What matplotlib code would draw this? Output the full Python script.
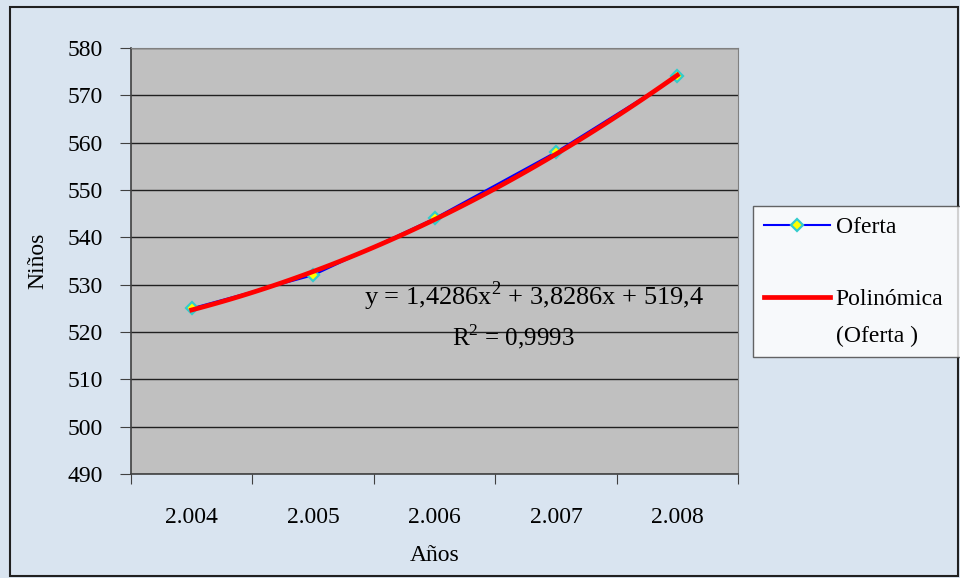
import matplotlib.pyplot as plt
import matplotlib.patches as patches
from matplotlib.lines import Line2D
import numpy as np

plt.rcParams['font.family'] = ['Liberation Serif', 'DejaVu Serif']
plt.rcParams['mathtext.fontset'] = 'custom'
plt.rcParams['mathtext.rm'] = 'Liberation Serif'

# Datos
anios = ["2.004", "2.005", "2.006", "2.007", "2.008"]
oferta = [525, 532, 544, 558, 574]
y_ticks = [490, 500, 510, 520, 530, 540, 550, 560, 570, 580]

x = np.arange(1, len(anios) + 1)
coef = np.polyfit(x, oferta, 2)
xs = np.linspace(1, 5, 60)

fs = 17

fig = plt.figure(figsize=(9.6, 5.78), dpi=100)
fig.patch.set_facecolor('#d9e4f0')
fig.patches.append(patches.Rectangle((10 / 960, 2 / 578), 948 / 960, 569 / 578,
                                     transform=fig.transFigure, fill=False,
                                     edgecolor='#202020', lw=1.5))

ax = fig.add_axes([131 / 960, 1 - 474 / 578, 607 / 960, 426 / 578])
ax.set_facecolor('#c0c0c0')

l1, = ax.plot(x, oferta, color='#0000ff', lw=1.5, marker='D', markersize=6.5,
              markerfacecolor='#ffff00', markeredgecolor='#33cccc', markeredgewidth=1.6,
              zorder=3)
l2, = ax.plot(xs, np.polyval(coef, xs), color='#ff0000', lw=3.4, zorder=4)

ax.set_xlim(0.5, 5.5)
ax.set_ylim(490, 580)
ax.set_yticks(y_ticks)
ax.yaxis.grid(True, color='#202020', lw=1)
ax.set_axisbelow(True)

ax.set_xticks(np.arange(0.5, 6, 1))
ax.set_xticklabels([])
ax.set_xticks(x, minor=True)
ax.set_xticklabels(anios, minor=True)
ax.tick_params(axis='x', which='major', length=7, color='#404040', direction='out')
ax.tick_params(axis='x', which='minor', length=0, pad=24, labelsize=fs)
ax.tick_params(axis='y', length=8, color='#404040', labelsize=fs, pad=12)

for s in ['top', 'right']:
    ax.spines[s].set_color('#808080')
for s in ['left', 'bottom']:
    ax.spines[s].set_color('#404040')
    ax.spines[s].set_linewidth(1.2)

ax.set_ylabel('Niños', fontsize=fs, labelpad=14)
ax.set_xlabel('Años', fontsize=fs, labelpad=12)

ax.text(3.82, 527.5, r'y = 1,4286x$^2$ + 3,8286x + 519,4', fontsize=19,
        ha='center', va='center')
ax.text(3.65, 519.0, r'R$^2$ = 0,9993', fontsize=18, ha='center', va='center')

blank = Line2D([], [], color='none')
leg = fig.legend([l1, blank, l2, blank], ['Oferta', ' ', 'Polinómica', '(Oferta )'],
                 loc='upper left', mode='expand',
                 bbox_to_anchor=(753 / 960, 1 - 206 / 578, 215 / 960, 0.0),
                 fontsize=fs, frameon=True, fancybox=False, edgecolor='#404040',
                 handlelength=2.8, labelspacing=0.62, borderpad=0.45, handletextpad=0.25,
                 borderaxespad=0)
leg.get_frame().set_linewidth(1)

fig.savefig('out.png', dpi=100, facecolor=fig.get_facecolor())
